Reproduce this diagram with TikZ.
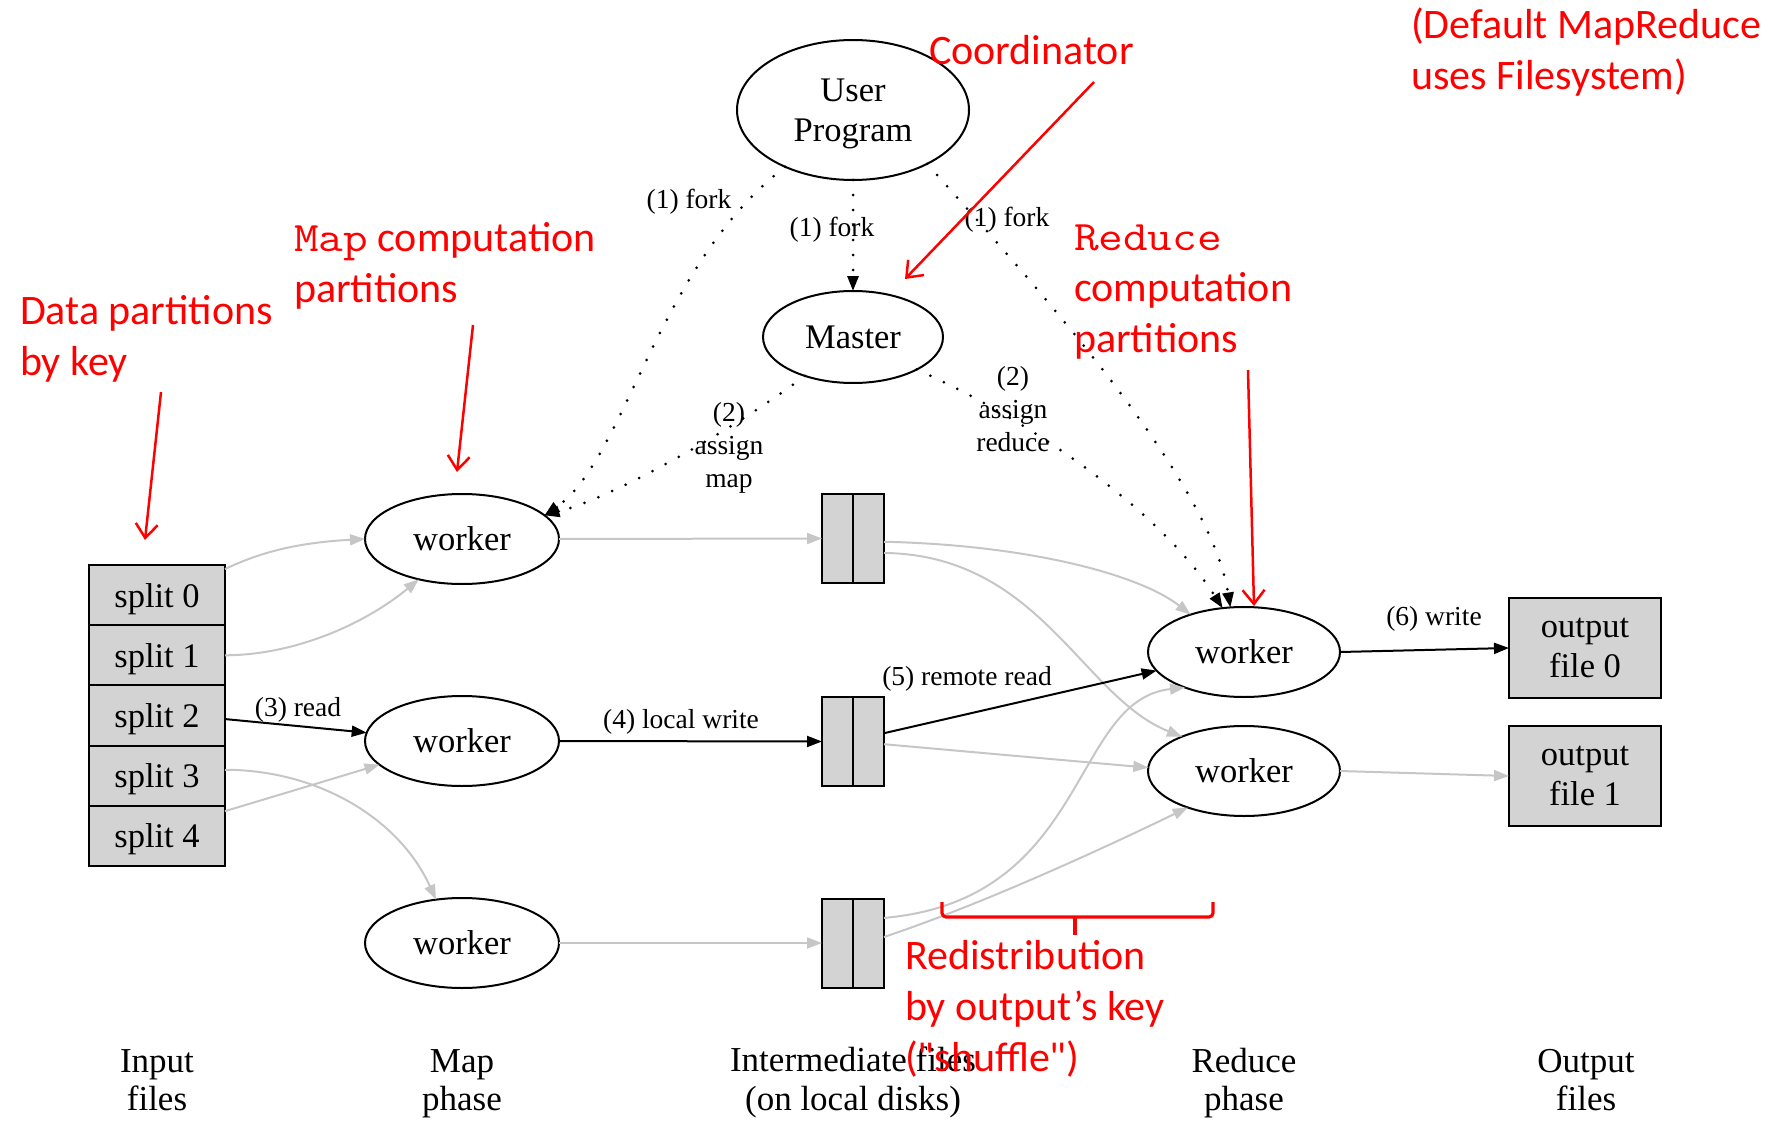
\documentclass[tikz,border=0pt]{standalone}
\usepackage{fontspec}
\setmainfont{Liberation Serif}
\newfontfamily\annfont{Carlito}
\usetikzlibrary{arrows.meta,shapes.geometric}

\definecolor{boxgray}{RGB}{211,211,211}
\definecolor{flowgray}{RGB}{198,198,198}
\definecolor{notered}{RGB}{255,0,0}

% code words in the annotations: a widened typewriter face
\newcommand{\codeword}[1]{\scalebox{1.14}[1]{\ttfamily #1}}

\begin{document}
\begin{tikzpicture}[x=1pt,y=-1pt,
  every node/.style={inner sep=0pt, outer sep=0pt},
  proc/.style={draw=black, line width=2pt, ellipse, fill=white,
    minimum width=194pt, minimum height=90pt,
    font=\fontsize{34.5}{39.6}\selectfont, align=center},
  filebox/.style={draw=black, line width=2pt, fill=boxgray, rectangle,
    font=\fontsize{34.5}{39.6}\selectfont, align=center},
  elabel/.style={font=\fontsize{27.5}{33}\selectfont, align=center},
  phase/.style={font=\fontsize{35}{38.4}\selectfont, align=center},
  ann/.style={text=notered, font=\annfont\fontsize{42}{51}\selectfont, align=left},
  tipA/.style={-{Triangle[length=15pt,width=11pt]}},
  flow/.style={draw=flowgray, line width=2pt, tipA},
  main/.style={draw=black, line width=2pt, tipA},
  ctl/.style={draw=black, line width=3pt, line cap=round,
    dash pattern=on 0pt off 15pt, tipA},
  note/.style={draw=notered, line width=2.5pt,
    -{Straight Barb[length=14pt,width=22pt,line width=2.5pt]}},
  brace/.style={draw=notered, line width=3.2pt, rounded corners=4pt}
]
\useasboundingbox (0,0) rectangle (1773,1121);

% --- processes ---
\node[proc, minimum width=232pt, minimum height=140pt, text depth=-4.4pt] (up) at (853,110) {User\\Program};
\node[proc, minimum width=180pt, minimum height=92pt] (ms) at (853,337) {Master};
\node[proc] (w1) at (462,539) {worker};
\node[proc] (w2) at (462,741) {worker};
\node[proc] (w3) at (462,943) {worker};
\node[proc, minimum width=192pt] (rw1) at (1244,652) {worker};
\node[proc, minimum width=192pt] (rw2) at (1244,771) {worker};

% --- input splits ---
\foreach \i/\yy in {0/595.1,1/655.3,2/715.5,3/775.7,4/835.9}{
  \node[filebox, minimum width=136pt, minimum height=60.2pt, text depth=0pt] (s\i) at (157,\yy) {split \i};
}

% --- intermediate files ---
\foreach \i/\yy in {1/538.5,2/741.5,3/943}{
  \node[filebox, minimum width=62pt, minimum height=89pt] (i\i) at (853,\yy) {};
  \draw[line width=2pt] (i\i.north) -- (i\i.south);
}

% --- output files ---
\node[filebox, minimum width=152pt, minimum height=100pt, text depth=-6.8pt] (out0) at (1585,648) {output\\file 0};
\node[filebox, minimum width=152pt, minimum height=100pt, text depth=-6.8pt] (out1) at (1585,776) {output\\file 1};

% --- control flow (dotted) ---
\draw[ctl] (up.220) .. controls (657,265) and (625,460) .. (w1.16);
\draw[ctl] (up.south) -- (ms.north);
\draw[ctl] (up.-36.5) .. controls (1040,290) and (1210,480) .. (rw1.107);
\draw[ctl] (ms.219) .. controls (740,425) and (620,495) .. (w1.16);
\draw[ctl] (ms.-27) .. controls (1030,420) and (1160,510) .. (rw1.116);

% --- data flow ---
\draw[flow] (s0.21) .. controls (255,555) and (290,543) .. (w1.west);
\draw[flow] (s1.east) .. controls (300,655) and (370,620) .. (w1.223);
\draw[main] (s2.-3.4) -- (w2.175);
\draw[flow] (s3.5) .. controls (320,770) and (400,820) .. (w3.121);
\draw[flow] (s4.20) -- (w2.196);

\draw[flow] (w1.east) -- (i1.west);
\draw[main] (w2.east) -- (i2.west);
\draw[flow] (w3.east) -- (i3.west);

\draw[flow] (i1.-6) .. controls (1030,545) and (1140,575) .. (rw1.145);
\draw[flow] (i1.-25) .. controls (1040,555) and (1082,697) .. (rw2.151);
\draw[main] (i2.15) -- (rw1.192);
\draw[flow] (i2.-5) -- (rw2.178);
\draw[flow] (i3.39) .. controls (1090,900) and (1070,700) .. (rw1.211);
\draw[flow] (i3.11) .. controls (980,905) and (1100,850) .. (rw2.213);

\draw[main] (rw1.east) -- (out0.west);
\draw[flow] (rw2.east) -- (out1.west);

% --- edge labels ---
\node[elabel] (lf1) at (689,201.5) {(1) fork};
\node[elabel] (lf2) at (832,229.5) {(1) fork};
\node[elabel] (lf3) at (1007,219.5) {(1) fork};
\node[elabel] (lam) at (729,448) {(2)\\assign\\map};
\node[elabel] (lar) at (1013,409) {(2)\\assign\\reduce};
\node[elabel] (lrd) at (298,709.5) {(3) read};
\node[elabel] (llw) at (681,721.5) {(4) local write};
\node[elabel] (lrr) at (967,679) {(5) remote read};
\node[elabel] (lwr) at (1434,618.5) {(6) write};

% --- phase captions ---
\node[phase] (pin) at (157,1080) {Input\\files};
\node[phase] (pmap) at (462,1083.5) {Map\\phase};
\node[phase] (pint) at (853,1082.5) {Intermediate files\\(on local disks)};
\node[phase] (pred) at (1244,1083) {Reduce\\phase};
\node[phase] (pout) at (1586,1080) {Output\\files};

% --- annotations (anchored at the baseline of their last line) ---
\node[ann, anchor=base west] (tcoord) at (929,65) {Coordinator};
\node[ann, anchor=base west] (tdef) at (1411,90) {(Default MapReduce\\uses Filesystem)};
\node[ann, anchor=base west] (tmap) at (294,302) {\codeword{Map} computation\\partitions};
\node[ann, anchor=base west] (tdata) at (20,375) {Data partitions\\by key};
\node[ann, anchor=base west] (tred) at (1074,352) {\codeword{Reduce}\\computation\\partitions};
\node[ann, anchor=base west] (tshuf) at (905,1071) {Redistribution\\by output’s key\\("shuffle")};

\coordinate (cA) at (1094,82);   \coordinate (cB) at (905,279);
\coordinate (mA) at (473,325);   \coordinate (mB) at (457,472);
\coordinate (dA) at (161,392);   \coordinate (dB) at (145,540);
\coordinate (rA) at (1248,370);  \coordinate (rB) at (1254,606);
\draw[note] (cA) -- (cB);
\draw[note] (mA) -- (mB);
\draw[note] (dA) -- (dB);
\draw[note] (rA) -- (rB);

% shuffle brace
\draw[brace] (942,902) -- (942,917) -- (1213,917) -- (1213,902);
\draw[brace] (1075,917) -- (1075,935);
\end{tikzpicture}
\end{document}
